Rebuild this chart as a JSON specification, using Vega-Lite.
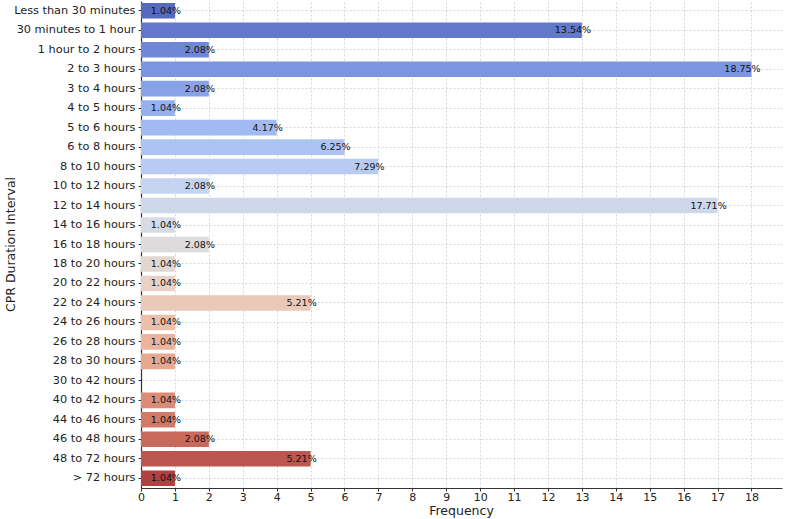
{
  "$schema": "https://vega.github.io/schema/vega-lite/v6.json",
  "width": 641,
  "height": 487,
  "autosize": {"type": "none"},
  "padding": {"left": 141, "top": 1, "right": 5, "bottom": 31},
  "background": "white",
  "config": {
    "font": "DejaVu Sans",
    "view": {"stroke": null},
    "axis": {
      "labelFont": "DejaVu Sans",
      "titleFont": "DejaVu Sans",
      "labelColor": "#222222",
      "titleColor": "#222222",
      "titleFontWeight": "normal",
      "domainColor": "#333333",
      "domainWidth": 1.2,
      "tickColor": "#333333",
      "tickSize": 3,
      "gridColor": "#cccccc",
      "gridDash": [2, 2],
      "gridWidth": 0.8
    }
  },
  "data": {
    "values": [
      {"interval": "Less than 30 minutes", "count": 1},
      {"interval": "30 minutes to 1 hour", "count": 13},
      {"interval": "1 hour to 2 hours", "count": 2},
      {"interval": "2 to 3 hours", "count": 18},
      {"interval": "3 to 4 hours", "count": 2},
      {"interval": "4 to 5 hours", "count": 1},
      {"interval": "5 to 6 hours", "count": 4},
      {"interval": "6 to 8 hours", "count": 6},
      {"interval": "8 to 10 hours", "count": 7},
      {"interval": "10 to 12 hours", "count": 2},
      {"interval": "12 to 14 hours", "count": 17},
      {"interval": "14 to 16 hours", "count": 1},
      {"interval": "16 to 18 hours", "count": 2},
      {"interval": "18 to 20 hours", "count": 1},
      {"interval": "20 to 22 hours", "count": 1},
      {"interval": "22 to 24 hours", "count": 5},
      {"interval": "24 to 26 hours", "count": 1},
      {"interval": "26 to 28 hours", "count": 1},
      {"interval": "28 to 30 hours", "count": 1},
      {"interval": "30 to 42 hours", "count": 0},
      {"interval": "40 to 42 hours", "count": 1},
      {"interval": "44 to 46 hours", "count": 1},
      {"interval": "46 to 48 hours", "count": 2},
      {"interval": "48 to 72 hours", "count": 5},
      {"interval": "> 72 hours", "count": 1}
    ]
  },
  "transform": [
    {"joinaggregate": [{"op": "sum", "field": "count", "as": "total"}]},
    {"calculate": "datum.count / datum.total", "as": "share"}
  ],
  "encoding": {
    "y": {
      "field": "interval",
      "type": "nominal",
      "sort": null,
      "scale": {"paddingInner": 0.2, "paddingOuter": 0.1},
      "axis": {
        "title": "CPR Duration Interval",
        "titleFontSize": 12.5,
        "titleX": -131,
        "titleY": 243,
        "titleAngle": -90,
        "titleAlign": "center",
        "titleBaseline": "middle",
        "labelFontSize": 11.3,
        "labelPadding": 3,
        "labelOverlap": false,
        "grid": true
      }
    }
  },
  "layer": [
    {
      "mark": {"type": "bar"},
      "encoding": {
        "x": {
          "field": "count",
          "type": "quantitative",
          "scale": {"domain": [0, 18.9], "nice": false},
          "axis": {
            "title": "Frequency",
            "titleFontSize": 12.5,
            "titleX": 320,
            "titleY": 22,
            "titleAlign": "center",
            "titleBaseline": "middle",
            "labelFontSize": 11,
            "labelPadding": 0,
            "labelOverlap": false,
            "labelFlush": false,
            "tickCount": 19,
            "values": [0, 1, 2, 3, 4, 5, 6, 7, 8, 9, 10, 11, 12, 13, 14, 15, 16, 17, 18],
            "grid": true
          }
        },
        "color": {
          "field": "interval",
          "type": "nominal",
          "sort": null,
          "legend": null,
          "scale": {
            "range": [
              "#5769be", "#6378ca", "#6f87d6", "#7c95e0", "#88a2e8",
              "#95b0ed", "#a1bbf2", "#adc4f3", "#b8ccf2", "#c3d3f0",
              "#cdd8eb", "#d6dbe5", "#dddbdc", "#e3d7d1", "#e8d1c5",
              "#ebc9b9", "#ecbfab", "#ebb49e", "#e7a890", "#e29a83",
              "#db8b76", "#d27a69", "#c9695b", "#bd564f", "#b04042"
            ]
          }
        }
      }
    },
    {
      "transform": [{"filter": "datum.count > 0"}],
      "mark": {"type": "text", "align": "center", "baseline": "middle", "dx": -9, "fontSize": 9.5, "color": "#111111", "font": "DejaVu Sans"},
      "encoding": {
        "x": {"field": "count", "type": "quantitative"},
        "text": {"field": "share", "type": "quantitative", "format": ".2%"}
      }
    }
  ]
}
